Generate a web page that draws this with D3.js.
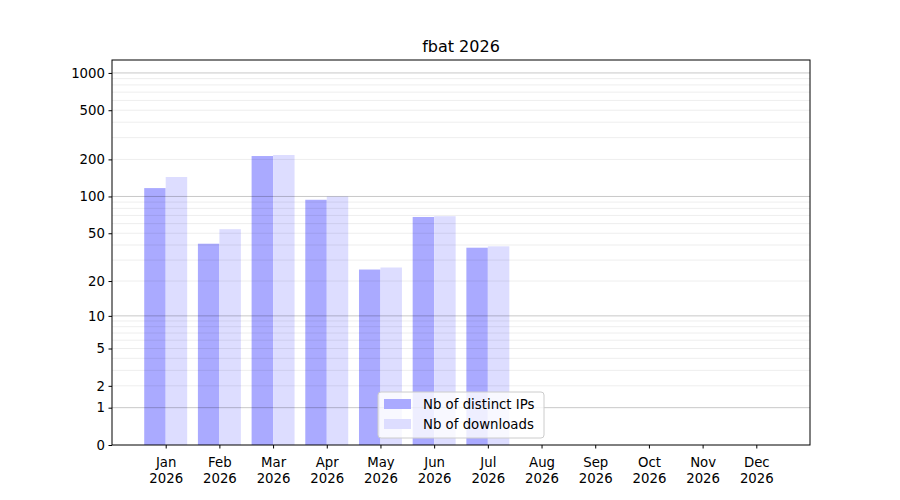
<!DOCTYPE html>
<html>
<head>
<meta charset="utf-8">
<script src="https://cdn.jsdelivr.net/npm/d3@7"></script>
<style>
  body { margin: 0; background: #fff; }
  text { font-family: "DejaVu Sans", sans-serif; fill: #000; }
</style>
</head>
<body>
<svg id="chart" width="900" height="500"></svg>
<script>
const months = ['Jan', 'Feb', 'Mar', 'Apr', 'May', 'Jun', 'Jul', 'Aug', 'Sep', 'Oct', 'Nov', 'Dec']
const year = '2026'
const distinctIPs = [117, 41, 213, 94, 25, 68, 38, 0, 0, 0, 0, 0]
const downloads = [144, 54, 217, 100, 26, 69, 39, 0, 0, 0, 0, 0]
const yTicks = [0, 1, 2, 5, 10, 20, 50, 100, 200, 500, 1000]
const majorGrid = [1, 10, 100, 1000]
const minorGrid = [2, 3, 4, 5, 6, 7, 8, 9, 20, 30, 40, 50, 60, 70, 80, 90, 200, 300, 400, 500, 600, 700, 800, 900]
const seriesNames = ['Nb of distinct IPs', 'Nb of downloads']
const seriesColors = ['#aaaaff', '#ddddff']

const width = 900, height = 500
const margin = {top: 60, right: 90, bottom: 55, left: 112}
const svg = d3.select('#chart')

// y axis is log10(1+x), keeps 0 on the chart
const t = v => Math.log10(1 + v)
const yLin = d3.scaleLinear().domain([0, t(1272)]).range([height - margin.bottom, margin.top])
const y = v => yLin(t(v))
const x = d3.scaleLinear().domain([-1, 12]).range([margin.left, width - margin.right])
const barW = x(0.4) - x(0)

let plot = svg.append('g').attr('class', 'plot')

// Bars
const series = [distinctIPs, downloads]
series.forEach((vals, s) => {
  plot.append('g').selectAll('rect').data(vals).enter().append('rect')
    .attr('x', (d, i) => s === 0 ? x(i) - barW : x(i))
    .attr('width', barW)
    .attr('y', d => y(d))
    .attr('height', d => y(0) - y(d))
    .attr('fill', seriesColors[s])
})

// Grid on top of bars
let grid = svg.append('g').attr('class', 'grid')
grid.selectAll('line.minor').data(minorGrid).enter().append('line')
  .attr('class', 'minor')
  .attr('x1', margin.left).attr('x2', width - margin.right)
  .attr('y1', d => y(d)).attr('y2', d => y(d))
  .attr('stroke', '#000').attr('stroke-opacity', 0.07)
grid.selectAll('line.major').data(majorGrid).enter().append('line')
  .attr('class', 'major')
  .attr('x1', margin.left).attr('x2', width - margin.right)
  .attr('y1', d => y(d)).attr('y2', d => y(d))
  .attr('stroke', '#000').attr('stroke-opacity', 0.22)

// Axes
const yAxis = d3.axisLeft(yLin)
  .tickValues(yTicks.map(t))
  .tickFormat((d, i) => yTicks[i])
  .tickSize(3.5).tickPadding(3.5)
svg.append('g')
  .attr('transform', `translate(${margin.left},0)`)
  .call(yAxis)
  .call(g => g.select('.domain').remove())
  .call(g => g.selectAll('text').attr('font-size', 13.3).attr('font-family', 'DejaVu Sans'))

const xAxis = d3.axisBottom(x)
  .tickValues(d3.range(months.length))
  .tickFormat('')
  .tickSize(3.5)
let xg = svg.append('g')
  .attr('transform', `translate(0,${height - margin.bottom})`)
  .call(xAxis)
xg.select('.domain').remove()
xg.selectAll('.tick').each(function(d) {
  let tx = d3.select(this).append('text')
    .attr('text-anchor', 'middle')
    .attr('font-size', 13.3)
    .attr('fill', '#000')
  tx.append('tspan').attr('x', 0).attr('y', 22).text(months[d])
  tx.append('tspan').attr('x', 0).attr('y', 38).text(year)
})

// Frame
svg.append('rect')
  .attr('x', margin.left).attr('y', margin.top)
  .attr('width', width - margin.left - margin.right)
  .attr('height', height - margin.top - margin.bottom)
  .attr('fill', 'none').attr('stroke', '#000').attr('stroke-width', 1)

// Title
svg.append('text')
  .attr('x', (margin.left + width - margin.right) / 2)
  .attr('y', 52)
  .attr('text-anchor', 'middle')
  .attr('font-size', 16)
  .text('fbat ' + year)

// Legend
let legend = svg.append('g').attr('transform', 'translate(378,392)')
legend.append('rect')
  .attr('width', 166).attr('height', 46).attr('rx', 3)
  .attr('fill', '#fff').attr('fill-opacity', 0.8)
  .attr('stroke', '#ccc')
seriesNames.forEach((name, i) => {
  legend.append('rect')
    .attr('x', 6).attr('y', 7 + i * 20)
    .attr('width', 27).attr('height', 10)
    .attr('fill', seriesColors[i])
  legend.append('text')
    .attr('x', 45).attr('y', 17 + i * 20)
    .attr('font-size', 13.3)
    .text(name)
})
</script>
</body>
</html>
